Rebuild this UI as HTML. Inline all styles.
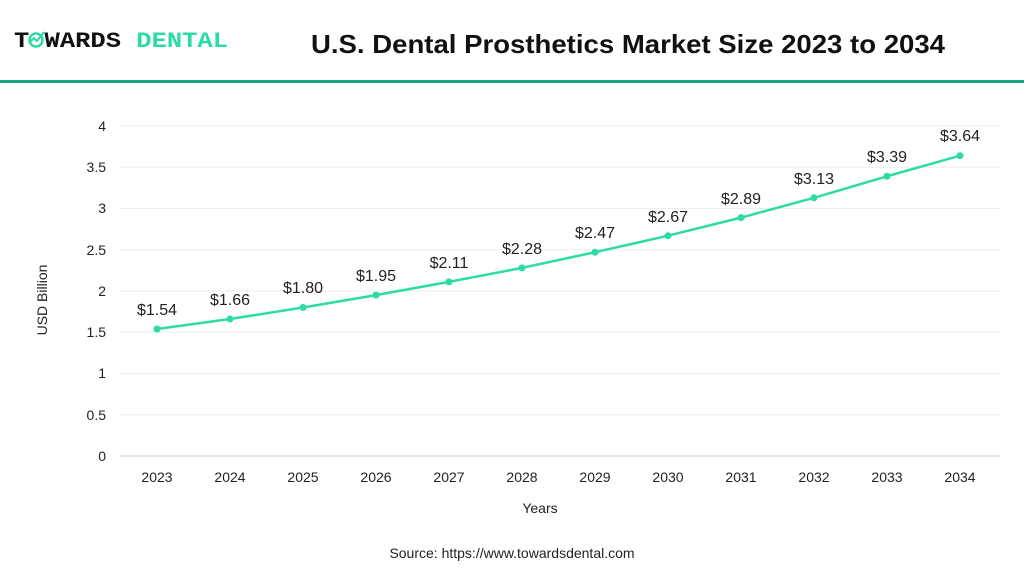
<!DOCTYPE html>
<html><head><style>body{margin:0;background:#fff}svg{display:block}</style></head><body>
<svg width="1024" height="576" xmlns="http://www.w3.org/2000/svg" font-family="Liberation Sans, sans-serif">
<rect width="1024" height="576" fill="#fff"/>
<text x="14" y="47" font-family="Liberation Mono, monospace" font-weight="bold" font-size="22" fill="#111" textLength="214" lengthAdjust="spacingAndGlyphs">T<tspan fill="#fff">O</tspan>WARDS <tspan fill="#2ddba6">DENTAL</tspan></text>
<circle cx="36" cy="40" r="6.5" fill="none" stroke="#2ddba6" stroke-width="2.5"/>
<polyline points="29,43 34,38 37,41 44,32" fill="none" stroke="#2ddba6" stroke-width="2"/>
<text x="628" y="53" text-anchor="middle" font-weight="bold" font-size="26" fill="#111" textLength="634" lengthAdjust="spacingAndGlyphs">U.S. Dental Prosthetics Market Size 2023 to 2034</text>
<rect x="0" y="80" width="1024" height="3" fill="#1aa67e"/>
<g stroke="#eeeeee" stroke-width="1">
<line x1="120" x2="1000" y1="126" y2="126"/><line x1="120" x2="1000" y1="167.25" y2="167.25"/><line x1="120" x2="1000" y1="208.5" y2="208.5"/><line x1="120" x2="1000" y1="249.75" y2="249.75"/><line x1="120" x2="1000" y1="291" y2="291"/><line x1="120" x2="1000" y1="332.25" y2="332.25"/><line x1="120" x2="1000" y1="373.5" y2="373.5"/><line x1="120" x2="1000" y1="414.75" y2="414.75"/>
</g>
<line x1="120" x2="1000" y1="456" y2="456" stroke="#d0d0d0"/>
<g font-size="14" fill="#222" text-anchor="end">
<text x="106" y="131">4</text><text x="106" y="172">3.5</text><text x="106" y="213">3</text><text x="106" y="255">2.5</text><text x="106" y="296">2</text><text x="106" y="337">1.5</text><text x="106" y="378">1</text><text x="106" y="420">0.5</text><text x="106" y="461">0</text>
</g>
<text transform="translate(47,300) rotate(-90)" text-anchor="middle" font-size="14" fill="#222">USD Billion</text>
<g font-size="14" fill="#222" text-anchor="middle">
<text x="157" y="482">2023</text><text x="230" y="482">2024</text><text x="303" y="482">2025</text><text x="376" y="482">2026</text><text x="449" y="482">2027</text><text x="522" y="482">2028</text><text x="595" y="482">2029</text><text x="668" y="482">2030</text><text x="741" y="482">2031</text><text x="814" y="482">2032</text><text x="887" y="482">2033</text><text x="960" y="482">2034</text>
<text x="540" y="513">Years</text>
</g>
<polyline fill="none" stroke="#2ddba6" stroke-width="2.5" points="157,329 230,319 303,307.5 376,295.1 449,281.9 522,267.9 595,252.2 668,235.7 741,217.6 814,197.8 887,176.3 960,155.7"/>
<g fill="#2ddba6">
<circle cx="157" cy="329" r="3.5"/><circle cx="230" cy="319" r="3.5"/><circle cx="303" cy="307.5" r="3.5"/><circle cx="376" cy="295.1" r="3.5"/><circle cx="449" cy="281.9" r="3.5"/><circle cx="522" cy="267.9" r="3.5"/><circle cx="595" cy="252.2" r="3.5"/><circle cx="668" cy="235.7" r="3.5"/><circle cx="741" cy="217.6" r="3.5"/><circle cx="814" cy="197.8" r="3.5"/><circle cx="887" cy="176.3" r="3.5"/><circle cx="960" cy="155.7" r="3.5"/>
</g>
<g font-size="16" fill="#222" text-anchor="middle">
<text x="157" y="315">$1.54</text><text x="230" y="305">$1.66</text><text x="303" y="293">$1.80</text><text x="376" y="281">$1.95</text><text x="449" y="268">$2.11</text><text x="522" y="254">$2.28</text><text x="595" y="238">$2.47</text><text x="668" y="222">$2.67</text><text x="741" y="204">$2.89</text><text x="814" y="184">$3.13</text><text x="887" y="162">$3.39</text><text x="960" y="141">$3.64</text>
</g>
<text x="512" y="558" text-anchor="middle" font-size="14" fill="#222">Source: https://www.towardsdental.com</text>
</svg>
</body></html>
